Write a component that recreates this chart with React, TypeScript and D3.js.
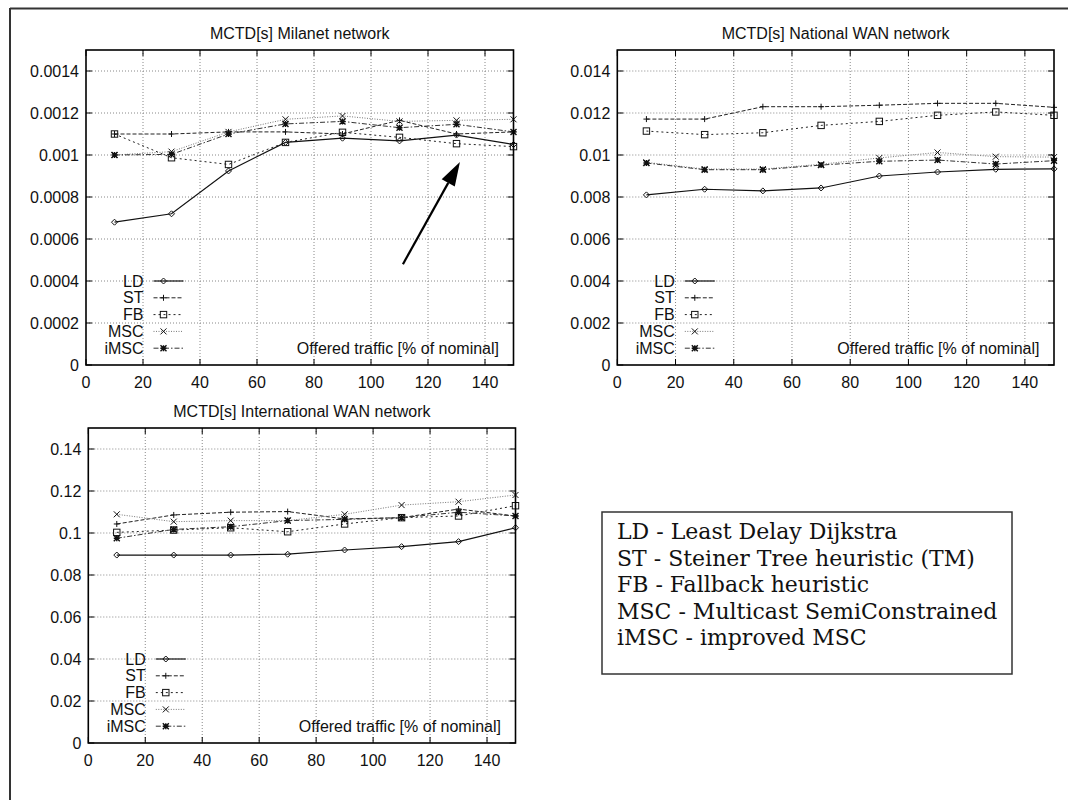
import React from 'react';
import * as d3 from 'd3';

// ---------- data ----------
const xValues = [10, 30, 50, 70, 90, 110, 130, 150];
const xTicks = [0, 20, 40, 60, 80, 100, 120, 140];
const seriesNames = ['LD', 'ST', 'FB', 'MSC', 'iMSC'];

const milanetLD = [0.00068, 0.00072, 0.000924, 0.00106, 0.00108, 0.001067, 0.001095, 0.00105];
const milanetST = [0.0011, 0.0011, 0.00111, 0.00111, 0.0011, 0.001165, 0.0011, 0.00111];
const milanetFB = [0.0011, 0.000987, 0.000955, 0.00106, 0.001108, 0.001084, 0.001054, 0.00104];
const milanetMSC = [0.001, 0.001016, 0.00111, 0.00117, 0.001186, 0.00116, 0.001165, 0.00117];
const milanetIMSC = [0.001, 0.001003, 0.0011, 0.001148, 0.00116, 0.00113, 0.001146, 0.00111];

const nationalLD = [0.0081, 0.00837, 0.00829, 0.00843, 0.009, 0.00919, 0.00932, 0.00934];
const nationalST = [0.01171, 0.01171, 0.0123, 0.0123, 0.01237, 0.01246, 0.01246, 0.01227];
const nationalFB = [0.01114, 0.01097, 0.01106, 0.01141, 0.0116, 0.01189, 0.01205, 0.01189];
const nationalMSC = [0.00965, 0.00933, 0.00933, 0.00956, 0.00986, 0.01012, 0.00992, 0.0099];
const nationalIMSC = [0.00962, 0.0093, 0.0093, 0.00952, 0.0097, 0.00976, 0.00957, 0.00973];

const internationalLD = [0.0895, 0.0895, 0.0895, 0.0899, 0.0919, 0.0935, 0.0959, 0.1025];
const internationalST = [0.1043, 0.1086, 0.1099, 0.1102, 0.1067, 0.1073, 0.1114, 0.1081];
const internationalFB = [0.1003, 0.1014, 0.1025, 0.1006, 0.1043, 0.1073, 0.1081, 0.113];
const internationalMSC = [0.1089, 0.1054, 0.1059, 0.1059, 0.1089, 0.1133, 0.1149, 0.1181];
const internationalIMSC = [0.0975, 0.1017, 0.103, 0.1059, 0.1065, 0.1073, 0.1099, 0.1081];

const milanetYTicks = [0, 0.0002, 0.0004, 0.0006, 0.0008, 0.001, 0.0012, 0.0014];
const milanetYLabels = ['0', '0.0002', '0.0004', '0.0006', '0.0008', '0.001', '0.0012', '0.0014'];
const nationalYTicks = [0, 0.002, 0.004, 0.006, 0.008, 0.01, 0.012, 0.014];
const nationalYLabels = ['0', '0.002', '0.004', '0.006', '0.008', '0.01', '0.012', '0.014'];
const internationalYTicks = [0, 0.02, 0.04, 0.06, 0.08, 0.1, 0.12, 0.14];
const internationalYLabels = ['0', '0.02', '0.04', '0.06', '0.08', '0.1', '0.12', '0.14'];

const panelTitles = [
  'MCTD[s] Milanet network',
  'MCTD[s] National WAN network',
  'MCTD[s] International WAN network',
];
const xAxisLabel = 'Offered traffic [% of nominal]';

// arrow annotation in Milanet panel (data coordinates)
const arrowFrom = [111.2, 0.00048];
const arrowTo = [131.2, 0.000967];

const boxLines = [
  'LD - Least Delay Dijkstra',
  'ST - Steiner Tree heuristic (TM)',
  'FB - Fallback heuristic',
  'MSC - Multicast SemiConstrained',
  'iMSC - improved MSC',
];

// ---------- styles ----------
const SANS = '"Liberation Sans", Arial, Helvetica, sans-serif';
const SERIF = '"DejaVu Serif", "Liberation Serif", serif';
const lineStyles: Record<string, { dash: string; color: string; width: number }> = {
  LD: { dash: '', color: '#111', width: 1.2 },
  ST: { dash: '4,2', color: '#222', width: 1 },
  FB: { dash: '2,3', color: '#222', width: 1 },
  MSC: { dash: '1,1.5', color: '#777', width: 1 },
  iMSC: { dash: '5,2,1.5,2', color: '#333', width: 1 },
};

function Marker({ type, x, y }: { type: string; x: number; y: number }) {
  const s = 3;
  const st = { stroke: '#111', strokeWidth: 1, fill: 'none' };
  if (type === 'LD') {
    return <path d={`M${x},${y - s}L${x + s},${y}L${x},${y + s}L${x - s},${y}Z`} {...st} />;
  }
  if (type === 'ST') {
    return <path d={`M${x - s},${y}H${x + s}M${x},${y - s}V${y + s}`} {...st} />;
  }
  if (type === 'FB') {
    return <rect x={x - 3.2} y={y - 3.2} width={6.4} height={6.4} {...st} />;
  }
  if (type === 'MSC') {
    return <path d={`M${x - s},${y - s}L${x + s},${y + s}M${x - s},${y + s}L${x + s},${y - s}`} {...st} />;
  }
  return (
    <path
      d={`M${x - s},${y - s}L${x + s},${y + s}M${x - s},${y + s}L${x + s},${y - s}M${x - s},${y}H${x + s}M${x},${y - s}V${y + s}`}
      {...st}
      strokeWidth={1.4}
    />
  );
}

type PanelProps = {
  title: string;
  left: number;
  right: number;
  top: number;
  bottom: number;
  yMax: number;
  yTicks: number[];
  yLabels: string[];
  series: number[][];
  arrow?: boolean;
};

function Panel({ title, left, right, top, bottom, yMax, yTicks, yLabels, series, arrow }: PanelProps) {
  const x = d3.scaleLinear().domain([0, 150]).range([left, right]);
  const y = d3.scaleLinear().domain([0, yMax]).range([bottom, top]);
  const line = d3
    .line<number>()
    .x((_, i) => x(xValues[i]))
    .y((d) => y(d));
  const tick = 6;
  const legendRight = left + 57.5;
  const rowH = 16.8;

  let arrowEl = null;
  if (arrow) {
    const x1 = x(arrowFrom[0]);
    const y1 = y(arrowFrom[1]);
    const x2 = x(arrowTo[0]);
    const y2 = y(arrowTo[1]);
    const ang = Math.atan2(y2 - y1, x2 - x1);
    const hl = 24;
    const hw = 7.5;
    const bx = x2 - hl * Math.cos(ang);
    const by = y2 - hl * Math.sin(ang);
    const px = -Math.sin(ang) * hw;
    const py = Math.cos(ang) * hw;
    arrowEl = (
      <g>
        <line x1={x1} y1={y1} x2={bx} y2={by} stroke="#000" strokeWidth={2.2} />
        <path d={`M${x2},${y2}L${bx + px},${by + py}L${bx - px},${by - py}Z`} fill="#000" />
      </g>
    );
  }

  return (
    <g>
      <text x={(left + right) / 2} y={top - 11} textAnchor="middle" fontFamily={SANS} fontSize={16} fill="#111">
        {title}
      </text>
      {/* grid */}
      {xTicks.slice(1).map((t) => (
        <line key={'gx' + t} x1={x(t)} x2={x(t)} y1={top} y2={bottom} stroke="#888" strokeWidth={1} strokeDasharray="1,2" />
      ))}
      {yTicks.slice(1).map((t) => (
        <line key={'gy' + t} x1={left} x2={right} y1={y(t)} y2={y(t)} stroke="#888" strokeWidth={1} strokeDasharray="1,2" />
      ))}
      {/* ticks */}
      {xTicks.map((t) => (
        <g key={'tx' + t}>
          <line x1={x(t)} x2={x(t)} y1={bottom} y2={bottom - tick} stroke="#000" />
          <line x1={x(t)} x2={x(t)} y1={top} y2={top + tick} stroke="#000" />
          <text x={x(t)} y={bottom + 23} textAnchor="middle" fontFamily={SANS} fontSize={16} fill="#111">
            {t}
          </text>
        </g>
      ))}
      {yTicks.map((t, i) => (
        <g key={'ty' + t}>
          <line x1={left} x2={left + tick} y1={y(t)} y2={y(t)} stroke="#000" />
          <line x1={right} x2={right - tick} y1={y(t)} y2={y(t)} stroke="#000" />
          <text x={left - 7} y={y(t) + 5.5} textAnchor="end" fontFamily={SANS} fontSize={16} fill="#111">
            {yLabels[i]}
          </text>
        </g>
      ))}
      {/* series */}
      {series.map((vals, si) => {
        const name = seriesNames[si];
        const ls = lineStyles[name];
        return (
          <g key={name}>
            <path d={line(vals) || ''} fill="none" stroke={ls.color} strokeWidth={ls.width} strokeDasharray={ls.dash} />
            {vals.map((v, i) => (
              <Marker key={i} type={name} x={x(xValues[i])} y={y(v)} />
            ))}
          </g>
        );
      })}
      {/* legend */}
      {seriesNames.map((name, i) => {
        const ry = bottom - (5 - i) * rowH;
        const ls = lineStyles[name];
        return (
          <g key={'lg' + name}>
            <text x={legendRight} y={ry + 5.5} textAnchor="end" fontFamily={SANS} fontSize={16} fill="#111">
              {name}
            </text>
            <line x1={legendRight + 10} x2={legendRight + 40} y1={ry} y2={ry} stroke={ls.color} strokeWidth={ls.width} strokeDasharray={ls.dash} />
            <Marker type={name} x={legendRight + 20} y={ry} />
          </g>
        );
      })}
      <text x={right - 14.5} y={bottom - 11.5} textAnchor="end" fontFamily={SANS} fontSize={16} fill="#111">
        {xAxisLabel}
      </text>
      {arrowEl}
      {/* frame */}
      <rect x={left} y={top} width={right - left} height={bottom - top} fill="none" stroke="#000" strokeWidth={1.6} />
    </g>
  );
}

export default function App() {
  return (
    <svg
      width={1068}
      height={800}
      viewBox="0 0 1068 800"
      style={{ position: 'absolute', left: 0, top: 0, background: '#fff' }}
    >
      <rect x={0} y={0} width={1068} height={800} fill="#fff" />
      <line x1={10} y1={8.5} x2={1068} y2={8.5} stroke="#333" strokeWidth={2} />
      <line x1={10} y1={8} x2={10} y2={800} stroke="#333" strokeWidth={2} />
      <Panel
        title={panelTitles[0]}
        left={86}
        right={513.5}
        top={50}
        bottom={365}
        yMax={0.0015}
        yTicks={milanetYTicks}
        yLabels={milanetYLabels}
        series={[milanetLD, milanetST, milanetFB, milanetMSC, milanetIMSC]}
        arrow
      />
      <Panel
        title={panelTitles[1]}
        left={617.3}
        right={1054}
        top={50}
        bottom={365}
        yMax={0.015}
        yTicks={nationalYTicks}
        yLabels={nationalYLabels}
        series={[nationalLD, nationalST, nationalFB, nationalMSC, nationalIMSC]}
      />
      <Panel
        title={panelTitles[2]}
        left={88.3}
        right={515.5}
        top={428}
        bottom={743}
        yMax={0.15}
        yTicks={internationalYTicks}
        yLabels={internationalYLabels}
        series={[internationalLD, internationalST, internationalFB, internationalMSC, internationalIMSC]}
      />
      <rect x={602} y={512} width={410} height={162} fill="#fff" stroke="#333" strokeWidth={1.5} />
      {boxLines.map((t, i) => (
        <text key={t} x={617} y={539 + i * 26.5} fontFamily={SERIF} fontSize={22} fill="#111">
          {t}
        </text>
      ))}
    </svg>
  );
}
